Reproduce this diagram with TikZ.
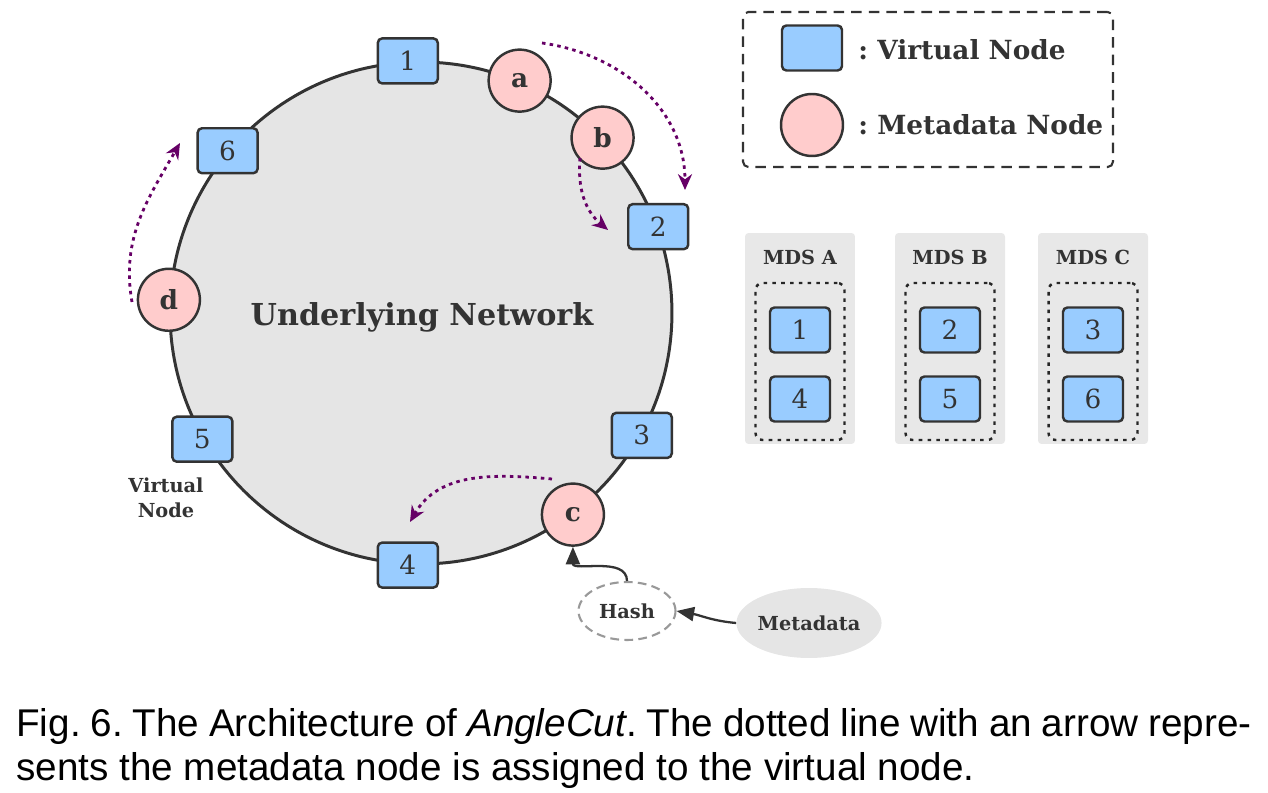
\documentclass[tikz,border=0pt]{standalone}
\usepackage{fontspec}
\setmainfont{Liberation Sans}
\newfontfamily\diagfont{DejaVu Serif}
\usetikzlibrary{arrows.meta,shapes.geometric}
\definecolor{edge}{RGB}{51,51,51}
\definecolor{vblue}{RGB}{153,204,255}
\definecolor{mpink}{RGB}{255,204,204}
\definecolor{ringgray}{RGB}{229,229,229}
\definecolor{panelgray}{RGB}{232,232,232}
\definecolor{assignpurple}{RGB}{102,0,102}
\frenchspacing
\begin{document}
\begin{tikzpicture}[x=0.02cm,y=0.02cm,
    vnode/.style={draw=edge,line width=1.4pt,fill=vblue,rounded corners=2.5pt,minimum width=1.2cm,minimum height=0.9cm,inner sep=0pt,text=edge,font=\diagfont\fontsize{15}{15}\selectfont},
    mnode/.style={circle,draw=edge,line width=1.4pt,fill=mpink,minimum size=1.24cm,inner sep=0pt,text=edge,font=\diagfont\bfseries\fontsize{15}{15}\selectfont},
    lbl/.style={text=edge,inner sep=0pt,font=\diagfont\bfseries\fontsize{11}{14}\selectfont},
    assign/.style={draw=assignpurple,line width=1.6pt,dash pattern=on 2pt off 2.4pt,-{Stealth[length=9pt,width=8pt]}},
    flow/.style={draw=edge,line width=1.3pt,-{Triangle[length=10pt,width=8pt]}}]
    \useasboundingbox (0,0) rectangle (1268,-793);

    \node[circle,draw=edge,line width=1.7pt,fill=ringgray,minimum size=10.04cm,inner sep=0pt] (ring) at (421,-313) {};
    \node[lbl,font=\diagfont\bfseries\fontsize{17.2}{17.2}\selectfont] (net) at (422,-317) {Underlying Network};

    \foreach \n/\a in {1/93.6,2/20.2,3/-29.4,4/-93.9,5/210,6/140.7}
        \node[vnode] (v\n) at (ring.\a) {\n};
    \foreach \m/\a in {a/67,b/44,c/-53.5,d/177.7}
        \node[mnode] (\m) at (ring.\a) {\m};

    \node[lbl,align=center] (vlabel) at (166,-498) {Virtual\\Node};

    \coordinate (as) at (542,-43);
    \coordinate (ae) at (685,-190);
    \coordinate (bs) at (580,-158);
    \coordinate (be) at (608,-230);
    \coordinate (cs) at (552,-479);
    \coordinate (ce) at (410,-522);
    \coordinate (ds) at (132,-302);
    \coordinate (de) at (180,-143);
    \draw[assign] (as) to[out=-8,in=90] (ae);
    \draw[assign] (bs) to[out=-95,in=140] (be);
    \draw[assign] (cs) to[out=175,in=60] (ce);
    \draw[assign] (ds) to[out=100,in=-120] (de);

    \node[ellipse,draw=gray!80,line width=1.2pt,dash pattern=on 5pt off 3pt,minimum width=1.94cm,minimum height=1.16cm,inner sep=0pt,lbl] (hash) at (627,-611) {Hash};
    \node[ellipse,fill=ringgray,minimum width=2.68cm,minimum height=1.4cm,inner sep=0pt,lbl] (meta) at (809,-623) {Metadata};
    \draw[flow] (meta.west) to[out=175,in=-10] (hash.east);
    \draw[flow] (hash.north) to[out=90,in=-90] (c.south);

    \node[draw=edge,line width=1.2pt,dash pattern=on 6pt off 4pt,rounded corners=3pt,minimum width=7.4cm,minimum height=3.1cm] (legend) at (928,-89.5) {};
    \node[vnode] (lv) at (812,-48) {};
    \node[mnode] (lm) at (812,-125) {};
    \node[lbl,anchor=west,font=\diagfont\bfseries\fontsize{15}{15}\selectfont] (lvtext) at (858,-50) {: Virtual Node};
    \node[lbl,anchor=west,font=\diagfont\bfseries\fontsize{15}{15}\selectfont] (lmtext) at (858,-125) {: Metadata Node};

    \foreach \x/\m/\p/\q in {800/A/1/4,950/B/2/5,1093/C/3/6}{
        \node[fill=panelgray,rounded corners=2pt,minimum width=2.2cm,minimum height=4.22cm] (mds\m) at (\x,-338.5) {};
        \node[lbl] (title\m) at (\x,-257) {MDS \m};
        \node[draw=black!85,line width=1.4pt,dash pattern=on 2pt off 3pt,rounded corners=4pt,minimum width=1.78cm,minimum height=3.14cm] (grp\m) at (\x,-361.5) {};
        \node[vnode] (s\p) at (\x,-330) {\p};
        \node[vnode] (s\q) at (\x,-399) {\q};
    }

    \node[anchor=base west,inner sep=0pt,font=\fontsize{22}{25}\selectfont] (cap1) at (16,-736) {\makebox[703pt][s]{Fig. 6. The Architecture of \textit{AngleCut}. The dotted line with an arrow repre-}};
    \node[anchor=base west,inner sep=0pt,font=\fontsize{22}{25}\selectfont] (cap2) at (16,-780) {sents the metadata node is assigned to the virtual node.};
\end{tikzpicture}
\end{document}
